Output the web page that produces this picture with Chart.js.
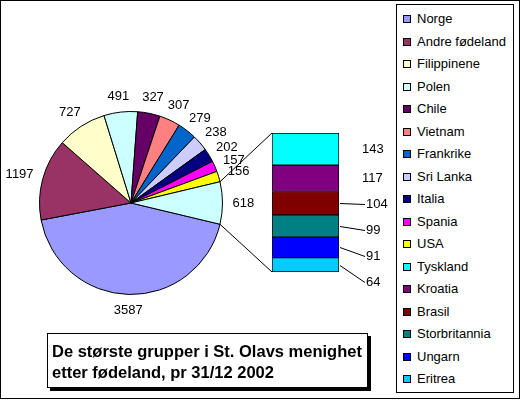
<!DOCTYPE html>
<html>
<head>
<meta charset="utf-8">
<script src="https://cdn.jsdelivr.net/npm/chart.js@4.4.1/dist/chart.umd.min.js"></script>
<style>
  body { margin: 0; background: #fff; font-family: "Liberation Sans", Arial, sans-serif; }
  #frame { position: absolute; left: 0; top: 0; width: 520px; height: 399px; box-sizing: border-box; border: 1px solid #000; }
  canvas { position: absolute; left: 0; top: 0; }
  #legend { position: absolute; left: 396px; top: 4px; width: 118px; height: 389px; box-sizing: border-box; border: 1px solid #000; background: #fff; }
  .item { position: absolute; left: 6px; height: 16px; line-height: 16px; font-size: 13px; color: #000; white-space: nowrap; }
  .item span { display: inline-block; width: 6px; height: 6px; border: 1px solid #000; margin-right: 6px; vertical-align: 0px; }
  #title { position: absolute; left: 47px; top: 333px; width: 321px; height: 55px; box-sizing: border-box; border: 1px solid #000; background: #fff;
           box-shadow: 3px 3px 0 #000; font-weight: bold; font-size: 16.5px; line-height: 21px; padding: 7px 0 0 4px; color: #000; white-space: nowrap; }
</style>
</head>
<body>
<div id="frame"></div>
<canvas id="pieChart" width="520" height="402"></canvas>
<canvas id="barChart" width="520" height="402"></canvas>
<div id="legend"></div>
<div id="title">De største grupper i St. Olavs menighet<br>etter fødeland, pr 31/12 2002</div>
<script>
// Pie part (the last slice is the sum of the bar part)
var pieLabels = ["Norge", "Andre fødeland", "Filippinene", "Polen", "Chile", "Vietnam", "Frankrike", "Sri Lanka", "Italia", "Spania", "USA"];
var pieValues = [3587, 1197, 727, 491, 327, 307, 279, 238, 202, 157, 156];
var pieColors = ["#9999ff", "#993366", "#ffffcc", "#ccffff", "#660066", "#ff8080", "#0066cc", "#ccccff", "#000080", "#ff00ff", "#ffff00"];
var otherColor = "#ccffff";

// Bar part, top to bottom
var barLabels = ["Tyskland", "Kroatia", "Brasil", "Storbritannia", "Ungarn", "Eritrea"];
var barValues = [143, 117, 104, 99, 91, 64];
var barColors = ["#00ffff", "#800080", "#800000", "#008080", "#0000ff", "#00ccff"];

var otherValue = barValues.reduce(function (a, b) { return a + b; }, 0);
var total = pieValues.reduce(function (a, b) { return a + b; }, 0) + otherValue;
var rotation = 90 + (otherValue / total) * 180;

var font = '13px "Liberation Sans", Arial, sans-serif';

var pieLabelPlugin = {
    id: "pieLabels",
    afterDatasetsDraw: function (chart) {
        var ctx = chart.ctx;
        var arcs = chart.getDatasetMeta(0).data;
        var values = chart.data.datasets[0].data;
        ctx.save();
        ctx.font = font;
        ctx.fillStyle = "#000";
        ctx.textAlign = "center";
        ctx.textBaseline = "middle";
        arcs.forEach(function (arc, i) {
            var a = (arc.startAngle + arc.endAngle) / 2;
            var r = arc.outerRadius + 10;
            var ax = arc.x + Math.cos(a) * r;
            var ay = arc.y + Math.sin(a) * r;
            var txt = String(values[i]);
            var w = ctx.measureText(txt).width;
            ctx.fillText(txt, ax + Math.cos(a) * w / 2, ay + Math.sin(a) * 6);
        });
        ctx.restore();
    }
};

var pieChart = new Chart("pieChart", {
    type: "pie",
    data: {
        labels: pieLabels.concat(["Andre"]),
        datasets: [{
            data: pieValues.concat([otherValue]),
            backgroundColor: pieColors.concat([otherColor]),
            borderColor: "#000",
            borderWidth: 1
        }]
    },
    options: {
        responsive: false,
        animation: false,
        rotation: rotation,
        layout: { padding: { left: 39, top: 111, right: 297, bottom: 107 } },
        plugins: {
            legend: { display: false },
            title: { display: false },
            tooltip: { enabled: false }
        }
    },
    plugins: [pieLabelPlugin]
});

var barLabelPlugin = {
    id: "barLabels",
    afterDatasetsDraw: function (chart) {
        var ctx = chart.ctx;
        var n = barValues.length;
        ctx.save();
        // connector lines from the "other" slice to the bar
        var other = pieChart.getDatasetMeta(0).data[pieValues.length];
        var topBar = chart.getDatasetMeta(0).data[0];
        var botBar = chart.getDatasetMeta(n - 1).data[0];
        var left = topBar.x - topBar.width / 2;
        ctx.strokeStyle = "#000";
        ctx.lineWidth = 1;
        ctx.beginPath();
        ctx.moveTo(other.x + Math.cos(other.startAngle) * other.outerRadius, other.y + Math.sin(other.startAngle) * other.outerRadius);
        ctx.lineTo(left, Math.min(topBar.y, topBar.base));
        ctx.moveTo(other.x + Math.cos(other.endAngle) * other.outerRadius, other.y + Math.sin(other.endAngle) * other.outerRadius);
        ctx.lineTo(left, Math.max(botBar.y, botBar.base));
        ctx.stroke();

        ctx.font = font;
        ctx.fillStyle = "#000";
        ctx.textAlign = "left";
        ctx.textBaseline = "middle";
        var prev = null;
        // walk the segments from the top down
        for (var k = 0; k < n; k++) {
            var bar = chart.getDatasetMeta(k).data[0];
            var cy = (bar.y + bar.base) / 2;
            var right = bar.x + bar.width / 2;
            var ly = cy;
            var leader = false;
            if (prev !== null) {
                ly = Math.max(cy, prev + 26);
                leader = cy < prev + 28;
            }
            if (leader) {
                ctx.beginPath();
                ctx.moveTo(right + 1, Math.round(cy) + 0.5);
                ctx.lineTo(right + 26, Math.round(ly) + 0.5);
                ctx.stroke();
                ctx.fillText(String(barValues[k]), right + 27, ly);
            } else {
                ctx.fillText(String(barValues[k]), right + 23, ly);
            }
            prev = ly;
        }
        ctx.restore();
    }
};

var barDatasets = [];
for (var i = 0; i < barValues.length; i++) {
    barDatasets.push({
        label: barLabels[i],
        data: [barValues[i]],
        backgroundColor: barColors[i],
        borderColor: "#000",
        borderWidth: 1,
        borderSkipped: false,
        barPercentage: 1,
        categoryPercentage: 1
    });
}

new Chart("barChart", {
    type: "bar",
    data: {
        labels: ["Andre"],
        datasets: barDatasets
    },
    options: {
        responsive: false,
        animation: false,
        layout: { padding: { left: 272, top: 133, right: 181, bottom: 130 } },
        scales: {
            x: { display: false, stacked: true },
            y: { display: false, stacked: true, min: 0, max: otherValue, reverse: true }
        },
        plugins: {
            legend: { display: false },
            title: { display: false },
            tooltip: { enabled: false }
        }
    },
    plugins: [barLabelPlugin]
});

// legend: pie items then bar items
var legend = document.getElementById("legend");
var allLabels = pieLabels.concat(barLabels);
var allColors = pieColors.concat(barColors);
allLabels.forEach(function (name, i) {
    var d = document.createElement("div");
    d.className = "item";
    d.style.top = (6 + i * 22.5) + "px";
    var s = document.createElement("span");
    s.style.background = allColors[i];
    d.appendChild(s);
    d.appendChild(document.createTextNode(name));
    legend.appendChild(d);
});
</script>
</body>
</html>
